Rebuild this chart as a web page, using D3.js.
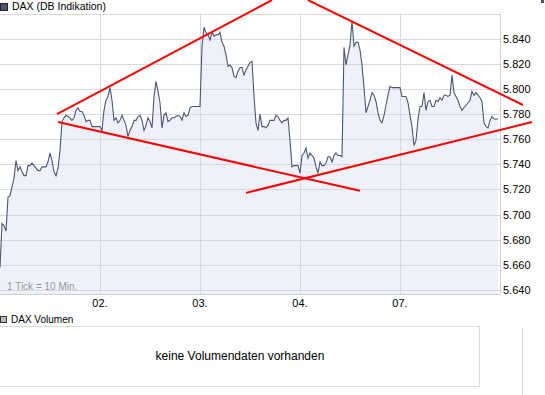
<!DOCTYPE html>
<html>
<head>
<meta charset="utf-8">
<script src="https://cdn.jsdelivr.net/npm/d3@7"></script>
<style>
	body { margin: 0; background: #fff; }
	svg { display: block; font-family: "Liberation Sans", Arial, sans-serif; }
</style>
</head>
<body>
<div id="chart"></div>
<script>
// Kurs (DAX, 1 Tick = 10 Min.), ein Wert pro Tick
const kurse = [
	5658, 5693, 5691, 5687, 5714, 5715, 5722, 5729, 5743, 5735,
	5738, 5734, 5731, 5731, 5739, 5739, 5741, 5739, 5737, 5735,
	5735, 5738, 5738, 5738, 5742, 5749, 5743, 5734, 5731, 5737,
	5751, 5774, 5777, 5779, 5778, 5777, 5775, 5777, 5783, 5785,
	5782, 5782, 5779, 5774, 5775, 5775, 5770, 5770, 5770, 5770,
	5770, 5767, 5783, 5791, 5794, 5801, 5791, 5775, 5777, 5773,
	5775, 5779, 5775, 5771, 5762, 5767, 5770, 5775, 5775, 5778,
	5779, 5775, 5767, 5771, 5777, 5774, 5769, 5794, 5806, 5798,
	5789, 5769, 5779, 5781, 5774, 5775, 5777, 5777, 5778, 5779,
	5778, 5775, 5781, 5778, 5779, 5785, 5786, 5786, 5786, 5786,
	5786, 5834, 5849, 5845, 5843, 5839, 5845, 5842, 5843, 5843,
	5845, 5837, 5834, 5827, 5818, 5819, 5817, 5810, 5809, 5814,
	5817, 5817, 5811, 5815, 5818, 5821, 5822, 5794, 5773, 5767,
	5780, 5770, 5770, 5769, 5771, 5775, 5775, 5775, 5779, 5778,
	5775, 5773, 5775, 5775, 5777, 5759, 5738, 5739, 5739, 5739,
	5733, 5747, 5749, 5753, 5745, 5749, 5747, 5745, 5738, 5733,
	5742, 5739, 5739, 5741, 5746, 5746, 5742, 5747, 5749, 5747,
	5747, 5746, 5833, 5819, 5827, 5835, 5854, 5834, 5837, 5837,
	5831, 5819, 5801, 5781, 5786, 5791, 5797, 5795, 5790, 5781,
	5775, 5773, 5779, 5787, 5795, 5802, 5801, 5801, 5801, 5801,
	5801, 5794, 5794, 5794, 5789, 5779, 5770, 5755, 5759, 5776,
	5786, 5786, 5797, 5783, 5790, 5791, 5786, 5786, 5791, 5790,
	5793, 5791, 5795, 5795, 5794, 5795, 5811, 5797, 5794, 5791,
	5786, 5783, 5785, 5787, 5789, 5791, 5798, 5795, 5797, 5795,
	5793, 5790, 5773, 5770, 5769, 5775, 5778, 5776, 5776, 5776
];

// Beschriftung der x-Achse (Tick-Index des Tagesbeginns)
const tagTicks = [50, 100, 150, 200];
const tagLabels = ["02.", "03.", "04.", "07."];

// Beschriftung der y-Achse
const kursTicks = [5640, 5660, 5680, 5700, 5720, 5740, 5760, 5780, 5800, 5820, 5840];
const gridTicks = [5640, 5660, 5680, 5700, 5720, 5740, 5760, 5780, 5800, 5820, 5840, 5860];

// Trendlinien (Tick-Index, Kurs)
const trendlinien = [
	[[28.5, 5780], [136, 5870.7]],
	[[29, 5773.7], [180, 5718.9]],
	[[154, 5870.7], [261.5, 5787.2]],
	[[123, 5717.3], [266, 5773.7]]
];

function renderChart() {
	const width = 545;
	const height = 395;
	const plotRight = 500;
	const plotTop = 13.5;
	const plotBottom = 294;

	const svg = d3.select("#chart")
		.append("svg")
		.attr("width", width)
		.attr("height", height);

	const x = d3.scaleLinear().domain([0, 250]).range([0, plotRight]);
	const y = d3.scaleLinear().domain([5640, 5860]).range([290, plotTop]);

	// Gitter
	svg.append("g")
		.selectAll("line")
		.data(gridTicks)
		.enter()
		.append("line")
		.attr("x1", 0)
		.attr("x2", plotRight)
		.attr("y1", d => Math.round(y(d)) + 0.5)
		.attr("y2", d => Math.round(y(d)) + 0.5)
		.attr("stroke", "#dadada");

	// Flaeche unter der Kurve
	const area = d3.area()
		.x((d, i) => x(i))
		.y0(plotBottom)
		.y1(d => y(d));
	svg.append("path")
		.datum(kurse)
		.attr("d", area)
		.attr("fill", "#eef1fa");

	// Gitterlinien ueber der Flaeche nochmal (leicht sichtbar)
	svg.append("g")
		.selectAll("line")
		.data(gridTicks)
		.enter()
		.append("line")
		.attr("x1", 0)
		.attr("x2", plotRight)
		.attr("y1", d => Math.round(y(d)) + 0.5)
		.attr("y2", d => Math.round(y(d)) + 0.5)
		.attr("stroke", "#d6d9e2");

	svg.append("g")
		.selectAll("line")
		.data(tagTicks)
		.enter()
		.append("line")
		.attr("x1", d => Math.round(x(d)) + 0.5)
		.attr("x2", d => Math.round(x(d)) + 0.5)
		.attr("y1", plotTop)
		.attr("y2", plotBottom)
		.attr("stroke", "#d6d9e2");

	// Rahmen rechts und unten
	svg.append("line")
		.attr("x1", plotRight + 0.5).attr("x2", plotRight + 0.5)
		.attr("y1", plotTop).attr("y2", plotBottom)
		.attr("stroke", "#cfcfcf");
	svg.append("line")
		.attr("x1", 0).attr("x2", plotRight)
		.attr("y1", plotBottom + 0.5).attr("y2", plotBottom + 0.5)
		.attr("stroke", "#cfcfcf");

	// Kurslinie
	const line = d3.line()
		.x((d, i) => x(i))
		.y(d => y(d));
	svg.append("path")
		.datum(kurse)
		.attr("d", line)
		.attr("fill", "none")
		.attr("stroke", "#4b5670")
		.attr("stroke-width", 1.1);

	// Trendlinien
	svg.append("g")
		.selectAll("line")
		.data(trendlinien)
		.enter()
		.append("line")
		.attr("x1", d => x(d[0][0]))
		.attr("y1", d => y(d[0][1]))
		.attr("x2", d => x(d[1][0]))
		.attr("y2", d => y(d[1][1]))
		.attr("stroke", "#ff0000")
		.attr("stroke-width", 2);

	// y-Achse rechts
	svg.append("g")
		.selectAll("text")
		.data(kursTicks)
		.enter()
		.append("text")
		.attr("x", 503)
		.attr("y", d => y(d) + 4)
		.attr("font-size", "11px")
		.attr("fill", "#000")
		.text(d => d3.format(",.3f")(d / 1000).replace(",", ""));

	// x-Achse
	svg.append("g")
		.selectAll("text")
		.data(tagTicks)
		.enter()
		.append("text")
		.attr("x", d => x(d))
		.attr("y", 307)
		.attr("text-anchor", "middle")
		.attr("font-size", "11px")
		.attr("fill", "#000")
		.text((d, i) => tagLabels[i]);

	svg.append("text")
		.attr("x", 7)
		.attr("y", 290)
		.attr("font-size", "10px")
		.attr("fill", "#999")
		.text("1 Tick = 10 Min.");

	// Legende Kurs
	svg.append("rect")
		.attr("x", 0.5).attr("y", 3.5)
		.attr("width", 7).attr("height", 7)
		.attr("fill", "#4b5670")
		.attr("stroke", "#222");
	svg.append("text")
		.attr("x", 12)
		.attr("y", 10)
		.attr("font-size", "10.5px")
		.attr("fill", "#000")
		.text("DAX (DB Indikation)");

	// Volumen-Bereich
	svg.append("rect")
		.attr("x", 0.5).attr("y", 316.5)
		.attr("width", 6).attr("height", 6)
		.attr("fill", "#bbb")
		.attr("stroke", "#333");
	svg.append("text")
		.attr("x", 11)
		.attr("y", 323)
		.attr("font-size", "10px")
		.attr("fill", "#000")
		.text("DAX Volumen");
	svg.append("rect")
		.attr("x", -0.5).attr("y", 326.5)
		.attr("width", 480).attr("height", 60)
		.attr("fill", "none")
		.attr("stroke", "#dcdcdc");
	svg.append("text")
		.attr("x", 240)
		.attr("y", 360)
		.attr("text-anchor", "middle")
		.attr("font-size", "12px")
		.attr("fill", "#000")
		.text("keine Volumendaten vorhanden");

	// kleine Reste am rechten Rand
	svg.append("line")
		.attr("x1", 522.5).attr("x2", 522.5)
		.attr("y1", 328).attr("y2", height)
		.attr("stroke", "#dcdcdc");
	svg.append("rect")
		.attr("x", 541).attr("y", 0)
		.attr("width", 3).attr("height", 3)
		.attr("fill", "#556");
}

document.addEventListener("DOMContentLoaded", renderChart, false);
</script>
</body>
</html>
